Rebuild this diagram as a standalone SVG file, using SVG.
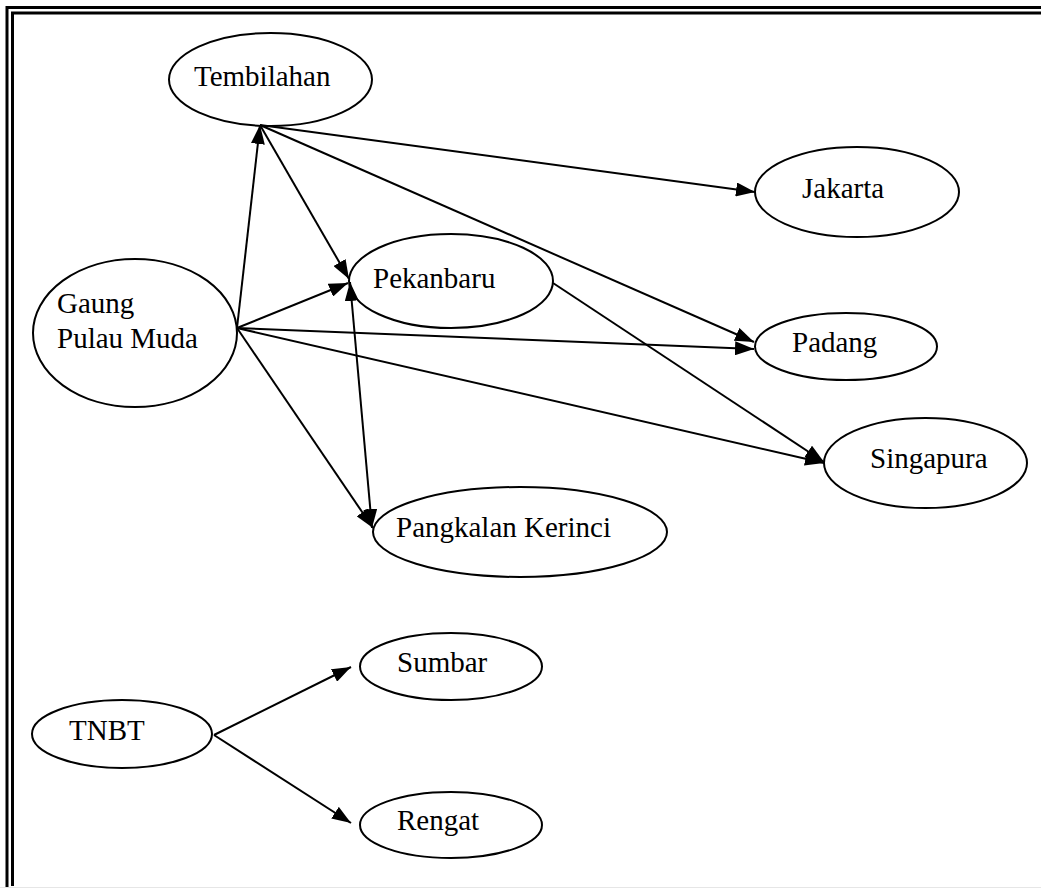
<svg xmlns="http://www.w3.org/2000/svg" width="1041" height="888" viewBox="0 0 1041 888">
<style>
.node ellipse{fill:#fff;stroke:#000;stroke-width:2}
.node text{font-family:"Liberation Serif","Times New Roman",serif;font-size:29px;fill:#000}
.edges line{stroke:#000;stroke-width:2;fill:none}
.border{fill:none;stroke:#000}
</style>
<defs>
<marker id="ah" viewBox="0 0 19 14" refX="19" refY="7" markerWidth="19" markerHeight="14" markerUnits="userSpaceOnUse" orient="auto-start-reverse">
<path d="M0,0 L19,7 L0,14 z" fill="#000"/>
</marker>
</defs>
<rect x="0" y="0" width="1041" height="888" fill="#fff"/>
<g id="frame">
<path class="border" d="M7,888 V7.5 H1041" stroke-width="3"/>
<path class="border" d="M12.5,886 V13 H1041" stroke-width="3"/>
<line x1="0" y1="887.5" x2="1041" y2="887.5" stroke="#e6e6e6" stroke-width="1"/>
</g>
<g id="n-tembilahan" class="node"><ellipse cx="270.5" cy="79.5" rx="101.5" ry="46.5"/><text x="194" y="86">Tembilahan</text></g>
<g id="n-gaung" class="node"><ellipse cx="135" cy="333" rx="102" ry="74"/><text x="57" y="313">Gaung</text><text x="57" y="348">Pulau Muda</text></g>
<g id="n-pekanbaru" class="node"><ellipse cx="451" cy="281" rx="102" ry="47"/><text x="373" y="288">Pekanbaru</text></g>
<g id="n-pangkalan" class="node"><ellipse cx="520" cy="532" rx="147" ry="45"/><text x="396" y="537">Pangkalan Kerinci</text></g>
<g id="n-jakarta" class="node"><ellipse cx="857" cy="192" rx="102" ry="45"/><text x="802" y="198">Jakarta</text></g>
<g id="n-padang" class="node"><ellipse cx="846" cy="346.5" rx="91" ry="33.5"/><text x="792" y="352">Padang</text></g>
<g id="n-singapura" class="node"><ellipse cx="925.5" cy="463" rx="101.5" ry="45"/><text x="870" y="468">Singapura</text></g>
<g id="n-tnbt" class="node"><ellipse cx="122" cy="734" rx="90" ry="34"/><text x="69" y="740">TNBT</text></g>
<g id="n-sumbar" class="node"><ellipse cx="451" cy="666.5" rx="91" ry="33.5"/><text x="397" y="672">Sumbar</text></g>
<g id="n-rengat" class="node"><ellipse cx="451" cy="825" rx="91" ry="33"/><text x="397" y="830">Rengat</text></g>
<g id="connectors" class="edges">
<line x1="237" y1="328" x2="260" y2="125" marker-end="url(#ah)"/>
<line x1="260" y1="125" x2="349" y2="279" marker-end="url(#ah)"/>
<line x1="260" y1="125" x2="755" y2="192" marker-end="url(#ah)"/>
<line x1="260" y1="125" x2="754" y2="342" marker-end="url(#ah)"/>
<line x1="237" y1="328" x2="348" y2="283" marker-end="url(#ah)"/>
<line x1="237" y1="328" x2="754" y2="349" marker-end="url(#ah)"/>
<line x1="237" y1="328" x2="824" y2="463" marker-end="url(#ah)"/>
<line x1="237" y1="328" x2="373" y2="528" marker-end="url(#ah)"/>
<line x1="350" y1="282" x2="372" y2="528" marker-start="url(#ah)" marker-end="url(#ah)"/>
<line x1="553" y1="283" x2="824" y2="462" marker-end="url(#ah)"/>
<line x1="214" y1="735" x2="351" y2="667" marker-end="url(#ah)"/>
<line x1="214" y1="735" x2="351" y2="823" marker-end="url(#ah)"/>
</g>
</svg>
